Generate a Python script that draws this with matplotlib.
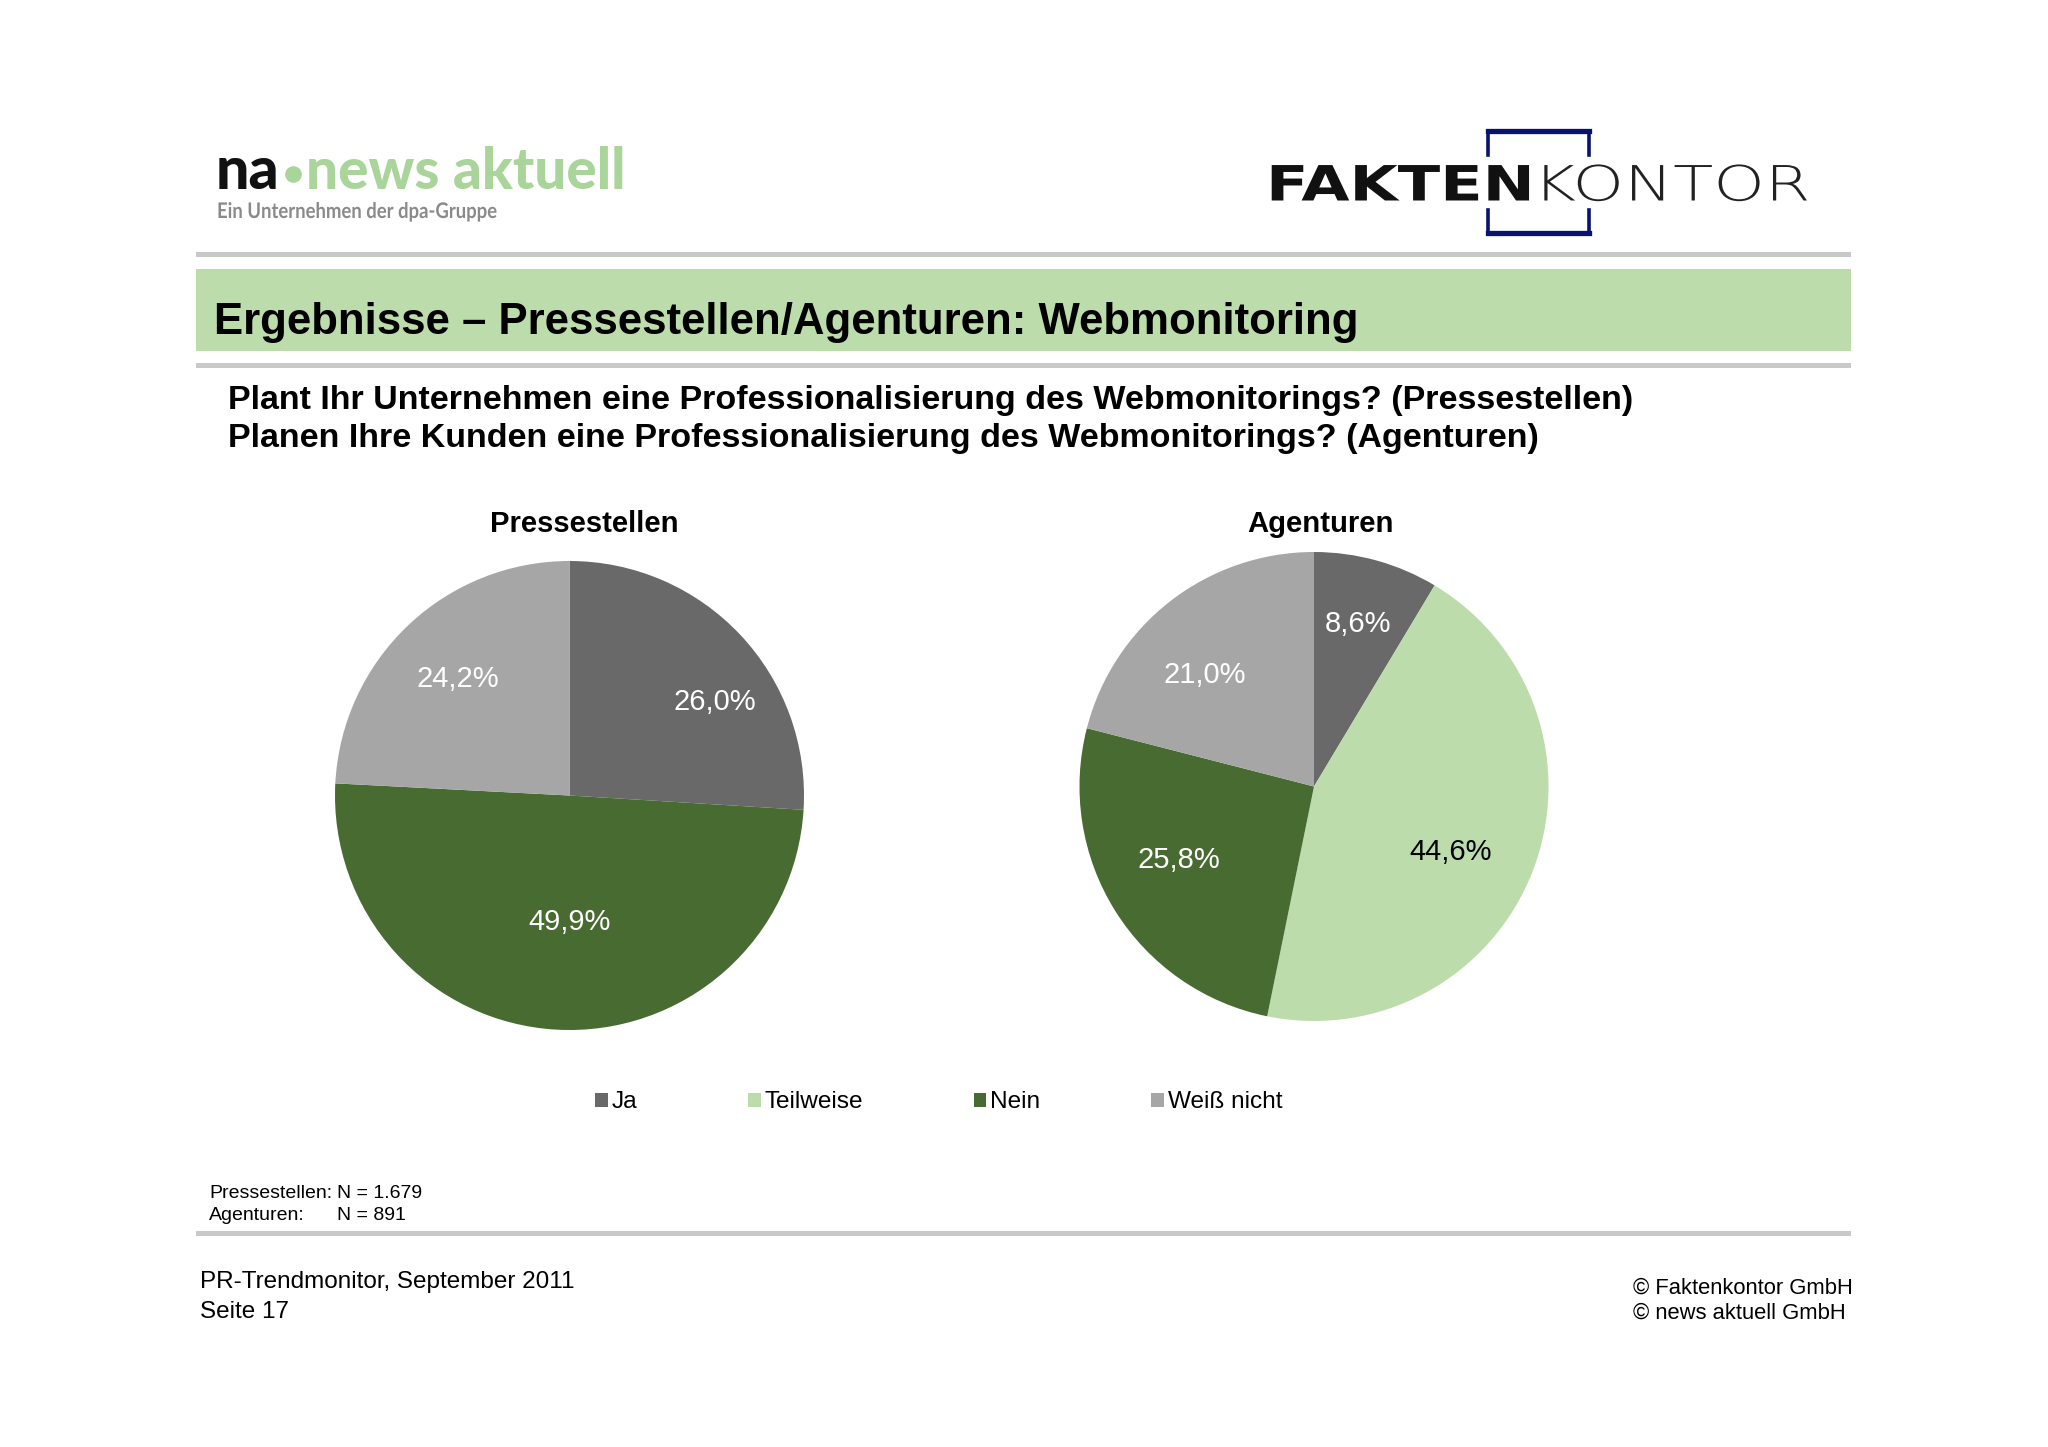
#!/usr/bin/python3

import matplotlib
matplotlib.use('Agg')
import matplotlib.pyplot as plt
from matplotlib.patheffects import AbstractPathEffect
from matplotlib.transforms import Affine2D

plt.rcParams['font.family'] = ['Liberation Sans', 'DejaVu Sans']

categories = ['Ja', 'Teilweise', 'Nein', 'Weiß nicht']
pressestellen = [26.0, 0.0, 49.9, 24.2]
agenturen = [8.6, 44.6, 25.8, 21.0]
colors = ['#696969', '#BCDCAB', '#486B31', '#A6A6A6']

W, H = 2048, 1447
GREEN = '#BCDCAB'
RULE = '#C9C9C9'
NAVY = '#0A1270'
R = 234.5


class StretchX(AbstractPathEffect):
    # the logo fonts are wider/narrower than anything installed
    def __init__(self, sx, x0):
        super().__init__()
        self.sx = sx
        self.x0 = x0

    def draw_path(self, renderer, gc, tpath, affine, rgbFace=None):
        stretch = Affine2D().translate(-self.x0, 0).scale(self.sx, 1).translate(self.x0, 0)
        renderer.draw_path(gc, tpath, affine + stretch, rgbFace)


def pie_axes(fig, cx, cy):
    # pie leaves 1.25 radius of room inside its axes
    side = 2 * R * 1.25
    ax = fig.add_axes([(cx - side / 2) / W, 1 - (cy + side / 2) / H, side / W, side / H])
    return ax


def pct(v):
    return f'{v:.1f}'.replace('.', ',') + '%'


def draw_pie(fig, bg, cx, cy, values, label_pos, title, title_x, title_y):
    ax = pie_axes(fig, cx, cy)
    wedges, _ = ax.pie(values, colors=colors, startangle=90, counterclock=False, radius=1,
                       wedgeprops={'linewidth': 0})
    for (x, y), v in zip(label_pos, values):
        if v == 0:
            continue
        col = 'black' if v == 44.6 else 'white'
        bg.text(x, y, pct(v), color=col, fontsize=21, ha='center', va='center', zorder=5)
    bg.text(title_x, title_y, title, fontsize=21.1, fontweight='bold', ha='center', va='center')
    return wedges


fig = plt.figure(figsize=(W / 100, H / 100), dpi=100, facecolor='white')

bg = fig.add_axes([0, 0, 1, 1], zorder=3)
bg.set_xlim(0, W)
bg.set_ylim(H, 0)
bg.axis('off')
bg.patch.set_alpha(0)

# rules and title band
for y0, y1 in [(252, 257), (363, 368), (1231, 1236)]:
    bg.fill_between([196, 1851], y0, y1, color=RULE, linewidth=0)
bg.fill_between([196, 1851], 269, 351, color=GREEN, linewidth=0)

# news aktuell logo
bg.text(216, 189, 'na', fontsize=42.5, fontweight='black', family='Lato', color='#111111', va='baseline')
bg.plot([292.5], [174], marker='o', ms=12, color='#A9D49A', mew=0)
bg.text(306, 189, 'news aktuell', fontsize=40.8, fontweight='black', family='Lato', color='#A9D49A', va='baseline')
bg.text(217, 218, 'Ein Unternehmen der dpa-Gruppe', fontsize=15.5, fontweight='bold', family='Lato',
        color='#8A8A8A', va='baseline', path_effects=[StretchX(0.86, 217)])

# faktenkontor logo
bg.text(1266, 200.5, 'FAKTEN', fontsize=35, fontweight='bold', family='DejaVu Sans', color='#111111',
        va='baseline', path_effects=[StretchX(1.28, 1266)])
bg.text(1533, 200.5, 'KONTOR', fontsize=35, fontweight='light', family='DejaVu Sans', color='#222222',
        va='baseline', path_effects=[StretchX(1.35, 1533)])
for xs, ys in [([1488, 1589], [131, 131]), ([1488, 1589], [233, 233])]:
    bg.plot(xs, ys, color=NAVY, lw=3.8, solid_capstyle='projecting')
for x in [1488, 1589]:
    bg.plot([x, x], [131, 155], color=NAVY, lw=2.6)
    bg.plot([x, x], [210, 233], color=NAVY, lw=2.6)

# headings
bg.text(214, 322.5, 'Ergebnisse – Pressestellen/Agenturen: Webmonitoring', fontsize=31.5, fontweight='bold',
        va='center')
bg.text(228.5, 400.5, 'Plant Ihr Unternehmen eine Professionalisierung des Webmonitorings? (Pressestellen)',
        fontsize=24.45, fontweight='bold', va='center')
bg.text(228.5, 438.5, 'Planen Ihre Kunden eine Professionalisierung des Webmonitorings? (Agenturen)',
        fontsize=24.45, fontweight='bold', va='center')

# pies
draw_pie(fig, bg, 569.5, 795.5, pressestellen, [(715, 701.5), (0, 0), (569.5, 922), (458, 679)],
         'Pressestellen', 584, 523.5)
wedges = draw_pie(fig, bg, 1314, 786.5, agenturen, [(1358, 624.5), (1451, 852.5), (1179, 859.5), (1205, 675)],
                  'Agenturen', 1320.5, 523.5)

# legend
fig.legend(wedges, categories, ncol=4, loc='center', bbox_to_anchor=(938.5 / W, 1 - 1102.5 / H),
           frameon=False, fontsize=17.6, handlelength=0.52, handleheight=0.52, handletextpad=0.15,
           columnspacing=4.54, borderpad=0, borderaxespad=0)

# footer
bg.text(209, 1194, 'Pressestellen:', fontsize=14, va='center')
bg.text(337, 1194, 'N = 1.679', fontsize=14, va='center')
bg.text(209, 1215, 'Agenturen:', fontsize=14, va='center')
bg.text(337, 1215, 'N = 891', fontsize=14, va='center')
bg.text(200, 1282, 'PR-Trendmonitor, September 2011', fontsize=17.5, va='center')
bg.text(200, 1312, 'Seite 17', fontsize=17.5, va='center')
bg.text(1633, 1288, '© Faktenkontor GmbH', fontsize=15.85, va='center')
bg.text(1633, 1313, '© news aktuell GmbH', fontsize=15.85, va='center')

plt.savefig('out.png', dpi=100)
